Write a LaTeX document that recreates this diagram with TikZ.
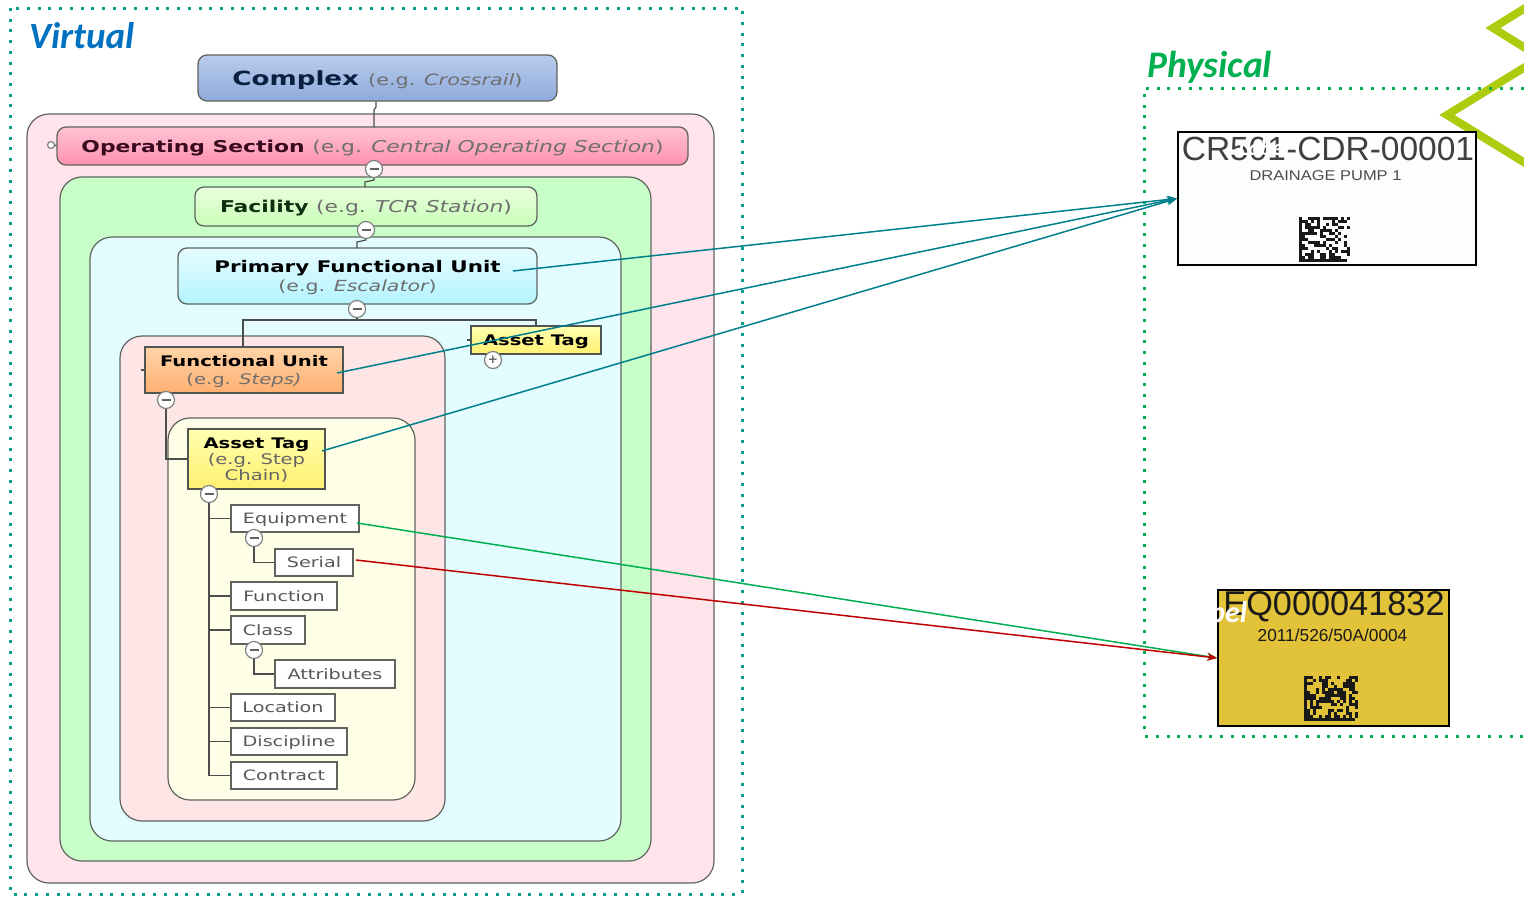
\documentclass[tikz,border=0pt]{standalone}
\usepackage{fontspec}
\usetikzlibrary{arrows.meta}
\setmainfont{DejaVu Sans}
\newfontfamily\dg[FakeStretch=1.34]{DejaVu Sans}
\newfontfamily\ti{Carlito}
\newfontfamily\ar{Liberation Sans}
\definecolor{edgeC}{HTML}{5F645F}
\definecolor{tealC}{HTML}{007F8C}
\definecolor{dotV}{HTML}{00A08C}
\definecolor{greenC}{HTML}{00B050}
\definecolor{redC}{HTML}{C00000}
\definecolor{limeC}{HTML}{AECB10}
\definecolor{subC}{HTML}{6E6E6E}
\definecolor{labelY}{HTML}{E2C238}
\definecolor{virtC}{HTML}{0070C0}
\definecolor{cxT}{HTML}{B8CCEC}\definecolor{cxB}{HTML}{8FAADC}
\definecolor{opT}{HTML}{FFC4D4}\definecolor{opB}{HTML}{FF90B0}
\definecolor{faT}{HTML}{E8FFDC}\definecolor{faB}{HTML}{C8FFB8}
\definecolor{pfT}{HTML}{E6FCFF}\definecolor{pfB}{HTML}{B4F4FF}
\definecolor{tgT}{HTML}{FFFFB0}\definecolor{tgB}{HTML}{FFF070}
\definecolor{fuT}{HTML}{FFD4A8}\definecolor{fuB}{HTML}{FFB070}
\definecolor{contA}{HTML}{FFE4EC}\definecolor{contB}{HTML}{C8FFC8}
\definecolor{contC}{HTML}{E2FCFF}\definecolor{contD}{HTML}{FFE6E6}
\definecolor{contE}{HTML}{FFFFE8}\definecolor{plateW}{HTML}{FBFDFE}
\definecolor{navyT}{HTML}{0B1F40}\definecolor{maroonT}{HTML}{3A0A20}
\definecolor{forestT}{HTML}{0F3010}
\newcommand{\fsz}[1]{\fontsize{#1}{#1}\selectfont}
\newcommand{\sub}[1]{{\color{subC}#1}}
\newcommand{\subi}[1]{{\color{subC}\itshape #1}}
\newcommand{\dmatrix}[7]{% x y cols rows cell seed color
  \pgfmathsetseed{#6}
  \fill[#7] (#1,#2) rectangle ++(#5*0.9,#4*#5);
  \fill[#7] (#1,#2+#4*#5-#5) rectangle ++(#3*#5,#5);
  \foreach \i in {1,...,#3}{\foreach \j in {0,...,\numexpr#4-2\relax}{
    \pgfmathparse{rnd<0.52?1:0}
    \ifnum\pgfmathresult=1
      \fill[#7] (#1+\i*#5,#2+\j*#5) rectangle ++(#5,#5);
    \fi}}
}
\tikzset{
  x=1pt,y=-1pt,
  box/.style={draw=edgeC,line width=1.2pt,rounded corners=22pt},
  head/.style n args={2}{draw=edgeC,line width=1.3pt,rounded corners=9pt,top color=#1,bottom color=#2,align=center,inner sep=0pt,text depth=0pt,font=\dg\fsz{15.3}},
  tagbox/.style n args={2}{draw=edgeC!85!black,line width=1.3pt,top color=#1,bottom color=#2,align=center,inner sep=0pt,text depth=0pt,font=\dg\fsz{14.6}},
  leaf/.style={draw=edgeC,line width=1.3pt,fill=white,inner sep=0pt,text depth=0pt,font=\dg\fsz{14.3},text=subC!80!black},
  conn/.style={draw=edgeC!80!black,line width=1.2pt},
  tree/.style={draw=black!70,line width=1.4pt},
  knob/.style={circle,draw=edgeC!80,line width=1.2pt,fill=white,minimum size=17pt,inner sep=0pt,text=edgeC},
  dotline/.style={line width=3pt,dash pattern=on 3pt off 7.72pt},
  link/.style={line width=1.5pt,-{Stealth[length=10pt,width=8pt]}},
  plate/.style={draw=black,line width=1.8pt,inner sep=0pt},
}
\begin{document}
\begin{tikzpicture}
\useasboundingbox (0,0) rectangle (1524,897);
\fill[white] (0,0) rectangle (1524,897);
% chevrons
\draw[limeC,line width=8pt,miter limit=10] (1530,5) -- (1493,28) -- (1530,51);
\draw[limeC,line width=8pt,miter limit=10] (1530,64) -- (1447,115) -- (1530,166);
% frames
\draw[dotV,dotline] (10,8) rectangle (742,894);
\draw[greenC,dotline] (1524,88) -- (1144,88) -- (1144,736) -- (1524,736);
\node[anchor=west,inner sep=0pt,font=\ti\bfseries\itshape\fsz{37},text=virtC] (virt) at (29,36) {Virtual};
\node[anchor=west,inner sep=0pt,font=\ti\bfseries\itshape\fsz{37.5},text=greenC] (phys) at (1147,67.5) {Physical};
% containers
\path[box,fill=contA] (27,114) rectangle (714,883);
\path[box,fill=contB] (60,177) rectangle (651,861);
\path[box,fill=contC] (90,237) rectangle (621,841);
\path[box,fill=contD] (120,336) rectangle (445,821);
\path[box,fill=contE] (168,418) rectangle (415,800);
% heads
\node[head={cxT}{cxB},minimum width=359pt,minimum height=46pt] (complex) at (377.5,78) {\fsz{19.5}\bfseries\color{navyT}Complex \mdseries\fsz{15.5}\sub{(e.g. }\subi{Crossrail}\sub{)}};
\node[head={opT}{opB},minimum width=631pt,minimum height=38pt] (opsec) at (372.5,146) {\fsz{16.3}\bfseries\color{maroonT}Operating Section \mdseries\sub{(e.g. }\subi{Central Operating Section}\sub{)}};
\node[head={faT}{faB},minimum width=342pt,minimum height=39pt] (fac) at (366,206.5) {\fsz{16.3}\bfseries\color{forestT}Facility \mdseries\sub{(e.g. }\subi{TCR Station}\sub{)}};
\node[head={pfT}{pfB},minimum width=359pt,minimum height=56pt] (pfu) at (357.5,276) {\fsz{16}\bfseries Primary Functional Unit\\[3pt]\mdseries\sub{(e.g. }\subi{Escalator}\sub{)}};
\node[tagbox={tgT}{tgB},minimum width=130pt,minimum height=28pt] (tagS) at (536,340) {\bfseries Asset Tag};
\node[tagbox={fuT}{fuB},minimum width=198pt,minimum height=46pt] (fu) at (244,370) {\bfseries Functional Unit\\[3.5pt]\sub{(e.g. }\subi{Steps)}};
\node[tagbox={tgT}{tgB},minimum width=137pt,minimum height=60pt] (tagB) at (256.5,459) {\bfseries Asset Tag\\[1.3pt]\color{black!60}(e.g. Step\\[1.3pt]\color{black!60}Chain)};
% leaves
\node[leaf,minimum width=128pt,minimum height=27pt] (equip) at (295,518.5) {Equipment};
\node[leaf,minimum width=78pt,minimum height=27pt] (serial) at (314,562.5) {Serial};
\node[leaf,minimum width=106pt,minimum height=28pt] (func) at (284,596) {Function};
\node[leaf,minimum width=74pt,minimum height=28pt] (class) at (268,630) {Class};
\node[leaf,minimum width=120pt,minimum height=28pt] (attr) at (335,674) {Attributes};
\node[leaf,minimum width=104pt,minimum height=27pt] (loc) at (283,707.5) {Location};
\node[leaf,minimum width=116pt,minimum height=27pt] (disc) at (289,741.5) {Discipline};
\node[leaf,minimum width=106pt,minimum height=27pt] (contr) at (284,775.5) {Contract};
% knobs
\node[knob,minimum size=7pt] (k0) at (51,145) {};
\node[knob] (k1) at (374,169) {\rule{9pt}{1.5pt}};
\node[knob] (k2) at (366,230) {\rule{9pt}{1.5pt}};
\node[knob] (k3) at (357,309) {\rule{9pt}{1.5pt}};
\node[knob] (k4) at (166,400) {\rule{9pt}{1.5pt}};
\node[knob] (k5) at (209,494) {\rule{9pt}{1.5pt}};
\node[knob] (k6) at (254,538) {\rule{9pt}{1.5pt}};
\node[knob] (k7) at (254,650) {\rule{9pt}{1.5pt}};
\node[knob] (k8) at (493,360) {\fsz{12}\bfseries +};
% connectors
\coordinate (c0) at (376,105);
\draw[conn] (k0.east) -- (opsec.west);
\draw[conn] (complex.south -| c0) -- (376,107) -- (374,110) -- (374,127);
\draw[conn] (k1.south) -- (374,180) -- (365,182) -- (365,187);
\draw[conn] (k2.south) -- (366,240) -- (357,242) -- (357,248);
\draw[conn] (k3.south) -- (357,320);
\coordinate (busL) at (243,320);
\coordinate (busR) at (536,320);
\draw[conn] (fu.north -| busL) -- (busL) -- (busR) -- (tagS.north);
\coordinate (tickA) at (467,340);
\coordinate (tickB) at (141,370);
\draw[conn] (tickA) -- (tagS.west);
\draw[conn] (tickB) -- (fu.west);
\coordinate (cornerA) at (166,459);
\draw[conn] (k4.south) -- (cornerA) -- (tagB.west);
\coordinate (treeEnd) at (209,775.5);
\draw[tree] (k5.south) -- (treeEnd) -- (contr.west);
\foreach \n in {equip,func,class,loc,disc}{\draw[tree,line width=1.1pt] (\n.west -| treeEnd) -- (\n.west);}
\coordinate (c6) at (254,562.5);
\draw[tree,line width=1.2pt] (k6.south) -- (c6) -- (serial.west);
\coordinate (c7) at (254,674);
\draw[tree,line width=1.2pt] (k7.south) -- (c7) -- (attr.west);
% plates
\node[plate,fill=plateW,minimum width=298pt,minimum height=133pt] (cr) at (1327,198.5) {};
\node[anchor=center,inner sep=0pt,font=\ar\fsz{33.5},text=black!75] (crT) at (1328,148.5) {CR501-CDR-00001};
\node[anchor=center,inner sep=0pt,font=\ar\fsz{14.2},text=black!70,xscale=1] (crS) at (1325.5,175.5) {\scalebox{1.16}[1]{DRAINAGE PUMP 1}};
\dmatrix{1299}{217}{16}{15}{3}{17}{black!90}
\node[plate,fill=labelY,minimum width=231pt,minimum height=136pt] (eq) at (1333.5,658) {};
\node[anchor=center,inner sep=0pt,font=\ar\fsz{34.3},text=black!90] (eqT) at (1334,607) {EQ000041832};
\node[anchor=center,inner sep=0pt,font=\ar\fsz{17.3},text=black!90] (eqS) at (1332.5,635) {2011/526/50A/0004};
\dmatrix{1304}{676}{17}{15}{3}{29}{black!90}
\node[anchor=center,inner sep=0pt,font=\ti\bfseries\itshape\fsz{30},text=white] (lab) at (1214,612) {Label};
\node[anchor=center,inner sep=0pt,font=\ti\bfseries\itshape\fsz{23},text=white] (lab2) at (1264,148) {Label};
% links
\coordinate (s1) at (513,271);
\coordinate (s2) at (337,373);
\coordinate (s3) at (322,451);
\coordinate (s4) at (357,523);
\coordinate (s5) at (356,560);
\draw[link,tealC] (s1) -- (cr.west);
\draw[link,tealC] (s2) -- (cr.west);
\draw[link,tealC] (s3) -- (cr.west);
\draw[link,greenC] (s4) -- (eq.west);
\draw[link,redC] (s5) -- (eq.west);
\end{tikzpicture}
\end{document}
